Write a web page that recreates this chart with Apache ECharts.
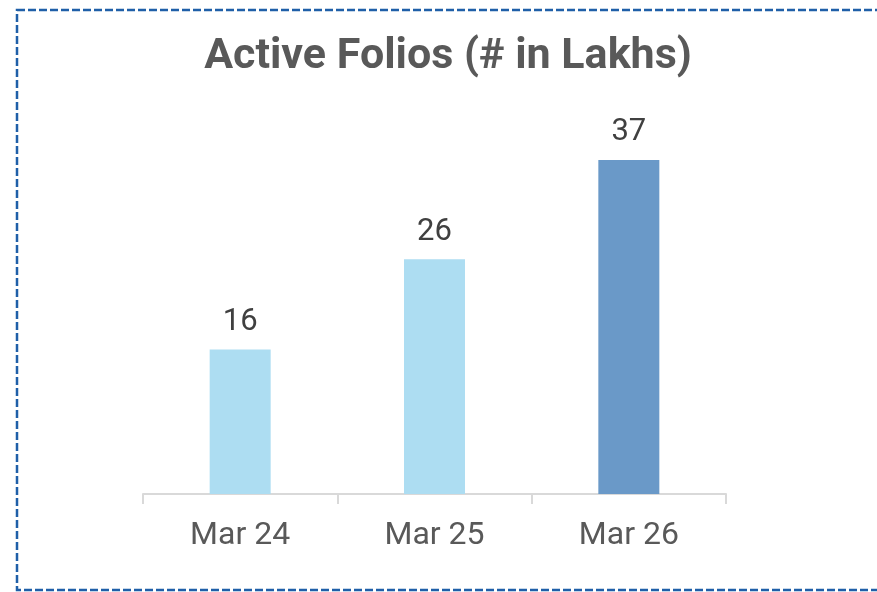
<!DOCTYPE html>
<html>
<head>
<meta charset="utf-8">
<script src="https://cdn.jsdelivr.net/npm/echarts@6/dist/echarts.min.js"></script>
<style>
  html, body { margin: 0; padding: 0; background: #fff; }
  #chart { width: 877px; height: 592px; }
</style>
</head>
<body>
<div id="chart"></div>
<script>
var categories = ['Mar 24', 'Mar 25', 'Mar 26'];
var folios = [16, 26, 37];
var barColors = ['#ADDDF2', '#ADDDF2', '#6A99C8'];

var myChart = echarts.init(document.getElementById('chart'));
myChart.setOption({
  animation: false,
  title: {
    text: 'Active Folios (# in Lakhs)',
    left: 443,
    textAlign: 'center',
    top: 31,
    textStyle: {
      color: '#595959',
      fontFamily: 'Roboto',
      fontWeight: 'bold',
      fontSize: 43
    }
  },
  graphic: [{
    type: 'rect',
    shape: { x: 17, y: 10, width: 900, height: 580 },
    style: { fill: 'none', stroke: '#1F5FA8', lineWidth: 2.5, lineDash: [8, 3] },
    silent: true
  }],
  grid: { left: 143, right: 151, top: 133, bottom: 98 },
  xAxis: {
    type: 'category',
    data: categories,
    axisLine: { lineStyle: { color: '#D9D9D9', width: 2 } },
    axisTick: { show: true, length: 10, lineStyle: { color: '#D9D9D9', width: 2 } },
    axisLabel: { color: '#595959', fontFamily: 'Roboto', fontSize: 32, margin: 26 }
  },
  yAxis: {
    type: 'value',
    min: 0,
    max: 40,
    show: false,
    splitLine: { show: false }
  },
  series: [{
    type: 'bar',
    barWidth: 61,
    data: folios.map(function (v, i) {
      return { value: v, itemStyle: { color: barColors[i] } };
    }),
    label: {
      show: true,
      position: 'top',
      distance: 12,
      color: '#404040',
      fontFamily: 'Roboto',
      fontSize: 31
    }
  }]
});
</script>
</body>
</html>
